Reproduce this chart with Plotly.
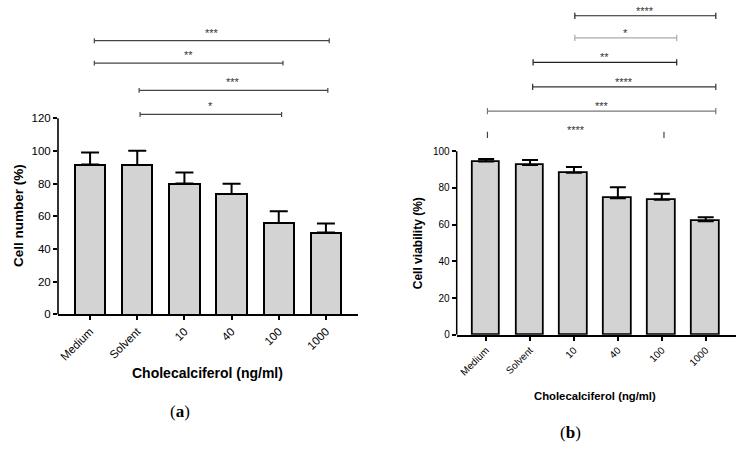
import plotly.graph_objects as go

# ---------------- data ----------------
categories = ["Medium", "Solvent", "10", "40", "100", "1000"]

cell_number = [91.8, 91.5, 80.1, 73.7, 56.0, 50.1]
cell_number_err = [7.3, 8.6, 6.7, 6.3, 7.2, 5.5]

cell_viability = [94.4, 92.5, 88.3, 74.4, 73.6, 61.8]
cell_viability_err = [1.3, 2.7, 3.1, 6.0, 3.3, 2.2]

# significance comparisons (start, end in category units, height in % units, label)
sig_a_start = [0.09, 0.09, 1.04, 1.06]
sig_a_end = [5.07, 4.09, 5.04, 4.06]
sig_a_height = [167.5, 153.8, 137.1, 122.4]
sig_a_label = ["***", "**", "***", "*"]

sig_b_start = [2.02, 2.02, 1.07, 1.06, 0.03, 0.03]
sig_b_end = [5.23, 4.34, 4.34, 5.23, 5.23, 4.05]
sig_b_height = [173.8, 161.8, 148.4, 135.1, 121.8, 108.9]
sig_b_label = ["****", "*", "**", "****", "***", "****"]

# ---------------- style ----------------
FONT = "Arial, Liberation Sans, sans-serif"
BAR_FILL = "#d3d3d3"
sig_b_color = ["#222", "#aaa", "#222", "#333", "#777", "#444"]
sig_b_line = [True, True, True, True, True, False]

fig = go.Figure()

x_idx = list(range(len(categories)))

fig.add_trace(go.Bar(
    x=x_idx, y=cell_number, width=0.64, xaxis="x", yaxis="y",
    marker=dict(color=BAR_FILL, line=dict(color="black", width=2)),
    error_y=dict(type="data", array=cell_number_err, arrayminus=[0] * 6,
                 symmetric=False, thickness=2, width=9, color="black"),
    showlegend=False,
))
fig.add_trace(go.Bar(
    x=x_idx, y=cell_viability, width=0.63, xaxis="x2", yaxis="y2",
    marker=dict(color=BAR_FILL, line=dict(color="black", width=1.8)),
    error_y=dict(type="data", array=cell_viability_err, arrayminus=[0] * 6,
                 symmetric=False, thickness=2, width=8, color="black"),
    showlegend=False,
))


def add_brackets(starts, ends, heights, labels, xa, ya, cap, colors, draw_line, shift, fsize):
    annos = []
    for i, (s, e, h, lab) in enumerate(zip(starts, ends, heights, labels)):
        xs, ys = [], []
        if draw_line[i]:
            xs += [s, e, None]
            ys += [h, h, None]
        xs += [s, s, None, e, e]
        ys += [h - cap, h + cap, None, h - cap, h + cap]
        fig.add_trace(go.Scatter(
            x=xs, y=ys, mode="lines", xaxis=xa, yaxis=ya,
            line=dict(color=colors[i], width=1.2), showlegend=False,
            hoverinfo="skip", cliponaxis=False,
        ))
        annos.append(dict(
            x=(s + e) / 2, y=h, xref=xa, yref=ya, text=lab, showarrow=False,
            xanchor="center", yanchor="middle", yshift=shift,
            font=dict(family=FONT, size=fsize, color="#333"),
        ))
    return annos


annos = []
annos += add_brackets(sig_a_start, sig_a_end, sig_a_height, sig_a_label, "x", "y",
                      1.5, ["#444"] * 4, [True] * 4, 8, 11)
annos += add_brackets(sig_b_start, sig_b_end, sig_b_height, sig_b_label, "x2", "y2",
                      1.7, sig_b_color, sig_b_line, 5, 11)


def paper_text(px, py, text, size, family=FONT, angle=0):
    return dict(x=px / 745, y=1 - py / 451, xref="paper", yref="paper", text=text,
                textangle=angle, showarrow=False, xanchor="center", yanchor="middle",
                font=dict(family=family, size=size, color="black"))


SERIF = "Liberation Serif, Times New Roman, serif"
annos += [
    paper_text(18, 219, "<b>Cell number (%)</b>", 13.5, angle=-90),
    paper_text(418, 246.5, "<b>Cell viability (%)</b>", 12, angle=-90),
    paper_text(208, 377.7, "<b>Cholecalciferol (ng/ml)</b>", 14),
    paper_text(595, 401, "<b>Cholecalciferol (ng/ml)</b>", 11.3),
    paper_text(180, 417, "(<b>a</b>)", 17, family=SERIF),
    paper_text(570, 438.3, "(<b>b</b>)", 17, family=SERIF),
]

shapes = [
    dict(type="line", xref="x domain", yref="y", x0=0, x1=0, y0=0, y1=120,
         line=dict(color="black", width=1.6)),
    dict(type="line", xref="x2 domain", yref="y2", x0=0, x1=0, y0=0, y1=100,
         line=dict(color="black", width=1.5)),
]

common_x = dict(tickmode="array", tickvals=x_idx, ticktext=categories, tickangle=-45,
                showline=True, linecolor="black", ticks="outside", ticklen=4,
                tickcolor="black", showgrid=False, zeroline=False)
common_y = dict(showline=False, ticks="outside", ticklen=4, tickcolor="black",
                showgrid=False, zeroline=False, tickmode="array")

fig.update_layout(
    width=745, height=451, autosize=False,
    margin=dict(l=0, r=0, t=0, b=0),
    paper_bgcolor="white", plot_bgcolor="white",
    font=dict(family=FONT, color="black"),
    bargap=0,
    xaxis=dict(domain=[58 / 745, 358 / 745], range=[-0.68, 5.68], anchor="y",
               linewidth=1.6, tickwidth=1.6, tickfont=dict(size=11.5), **common_x),
    yaxis=dict(domain=[1 - 318.7 / 451, 1 - 5 / 451], range=[0, 189.4], anchor="x",
               tickvals=[0, 20, 40, 60, 80, 100, 120], tickwidth=1.6,
               tickfont=dict(size=11.5), **common_y),
    xaxis2=dict(domain=[456.7 / 745, 736 / 745], range=[-0.67, 5.69], anchor="y2",
                linewidth=1.5, tickwidth=1.5, tickfont=dict(size=10), **common_x),
    yaxis2=dict(domain=[1 - 339.3 / 451, 1 - 5 / 451], range=[0, 179.7], anchor="x2",
                tickvals=[0, 20, 40, 60, 80, 100], tickwidth=1.5,
                tickfont=dict(size=10), **common_y),
    annotations=annos,
    shapes=shapes,
)

fig.write_html("out.html", config={"displayModeBar": False},
               post_script="document.body.style.margin='0';document.body.style.overflow='hidden';")
